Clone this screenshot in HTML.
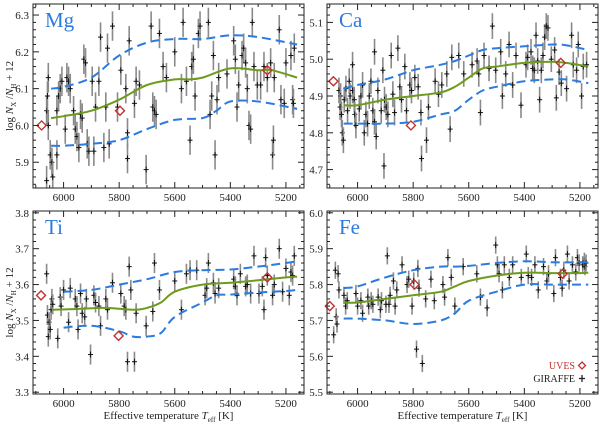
<!DOCTYPE html>
<html><head><meta charset="utf-8">
<style>
html,body{margin:0;padding:0;background:#fff;}
svg{display:block;font-family:"Liberation Serif",serif;}
</style></head>
<body>
<svg id="fig" width="600" height="423" viewBox="0 0 600 423" xmlns="http://www.w3.org/2000/svg"></svg>
<script>
// ---------- DATA ----------
const xTicks = [6000, 5800, 5600, 5400, 5200];
const xDomain = [6110, 5135];

const mgYTicks = [5.9, 6.0, 6.1, 6.2, 6.3];
const mgT = [6061,6055,6058,6055,6048,6042,6039,6061,6024,6018,6012,6006,6024,5994,5988,5982,5976,5964,5958,5952,5945,5939,5933,5927,5921,5915,5909,5897,5891,5885,5873,5867,5855,5848,5842,5836,5824,5806,5794,5776,5770,5764,5770,5745,5739,5727,5703,5685,5679,5673,5667,5655,5642,5630,5600,5576,5570,5558,5545,5539,5533,5527,5515,5509,5479,5473,5467,5461,5455,5448,5442,5412,5388,5382,5376,5370,5358,5352,5345,5339,5333,5327,5321,5315,5303,5291,5279,5267,5255,5248,5245,5242,5224,5218,5206,5200,5182,5176,5170,5173];
const mgV = [6.04,6.13,6.08,6.00,5.92,5.90,5.86,5.85,6.04,6.08,6.10,6.12,5.92,5.99,6.13,6.12,6.10,6.04,5.99,5.97,5.94,6.03,6.02,6.18,6.17,5.95,5.93,6.12,5.93,6.05,6.12,6.24,5.94,6.05,6.21,5.95,6.27,6.05,6.15,6.10,5.98,6.23,5.91,6.06,6.12,6.11,5.88,6.27,6.05,6.04,6.03,6.25,6.16,6.13,6.20,6.10,6.28,6.12,5.96,6.16,6.18,6.08,6.25,6.27,6.28,6.03,6.08,6.19,5.92,6.07,6.13,6.14,6.23,6.18,6.05,6.11,6.19,6.21,6.17,6.10,6.00,5.99,6.28,6.16,6.11,6.11,6.16,6.13,6.17,5.92,5.96,6.13,6.26,6.07,6.06,6.17,6.19,6.07,6.21,6.06];
const mgUvesT = [6079, 5797, 5267];
const mgUvesV = [6.00, 6.04, 6.15];
const mgFitT = [6045,6000,5900,5800,5700,5600,5550,5500,5400,5300,5250,5160];
const mgFit = [6.02,6.025,6.04,6.07,6.11,6.125,6.125,6.13,6.155,6.15,6.15,6.13];
const mgUpT = [6045,6000,5900,5800,5700,5600,5500,5400,5300,5160];
const mgUp = [6.10,6.105,6.13,6.19,6.225,6.235,6.235,6.245,6.24,6.22];
const mgLoT = [6045,6000,5900,5800,5700,5600,5500,5450,5400,5300,5160];
const mgLo = [5.945,5.945,5.95,5.96,5.99,6.015,6.02,6.04,6.065,6.065,6.045];

const caYTicks = [4.7, 4.8, 4.9, 5.0, 5.1];
const caT = [6067,6061,6063,6058,6055,6051,6048,6042,6036,6030,6027,6018,6012,6010,6018,6006,5994,5988,5982,5976,5970,5964,5958,5952,5945,5939,5939,5933,5927,5915,5909,5903,5897,5891,5905,5879,5873,5867,5855,5848,5842,5830,5824,5812,5806,5794,5782,5772,5770,5752,5745,5721,5709,5697,5679,5667,5661,5636,5618,5588,5570,5564,5558,5545,5527,5515,5503,5485,5479,5467,5455,5442,5430,5412,5394,5388,5376,5370,5364,5358,5352,5345,5339,5333,5327,5321,5315,5303,5291,5285,5275,5267,5248,5230,5224,5212,5206,5194,5188,5176];
const caV = [4.915,4.90,4.87,4.85,4.80,4.78,4.89,4.92,4.86,4.94,4.90,4.915,4.89,4.85,4.985,4.82,4.865,4.90,4.93,4.80,4.85,4.825,4.90,4.94,4.86,5.02,4.83,4.79,4.915,4.86,4.97,4.89,4.87,4.85,4.71,5.01,4.905,4.855,5.03,4.925,4.89,4.98,4.86,4.93,4.915,4.95,4.925,4.855,4.73,4.78,4.87,4.94,4.905,4.93,4.96,4.81,5.005,5.01,4.96,4.985,4.995,4.96,4.855,5.01,4.975,5.09,4.97,5.02,4.90,4.96,5.04,4.93,5.01,4.875,4.985,5.005,5.02,4.975,4.97,5.065,4.995,4.89,4.97,5.01,5.06,5.09,5.085,5.0,5.025,4.895,4.965,4.935,4.92,5.065,4.985,4.97,5.04,4.90,4.98,4.985];
const caUvesT = [6087, 5808, 5269];
const caUvesV = [4.94, 4.82, 4.99];
const caFitT = [6050,6000,5900,5800,5700,5650,5600,5550,5500,5400,5300,5250,5170];
const caFit = [4.875,4.875,4.89,4.90,4.91,4.925,4.95,4.975,4.98,4.99,4.993,4.99,4.98];
const caUp = [4.92,4.93,4.945,4.97,4.985,4.995,5.01,5.025,5.03,5.035,5.04,5.038,5.025];
const caLo = [4.825,4.825,4.825,4.83,4.85,4.86,4.89,4.915,4.925,4.94,4.945,4.945,4.935];

const tiYTicks = [3.3, 3.4, 3.5, 3.6, 3.7, 3.8];
const tiT = [6061,6058,6055,6052,6048,6045,6042,6039,6021,6012,6009,6000,5982,5976,5958,5952,5948,5939,5933,5924,5918,5903,5891,5885,5873,5867,5848,5842,5824,5794,5782,5776,5770,5764,5758,5745,5739,5703,5679,5673,5655,5600,5576,5558,5545,5521,5491,5485,5479,5461,5455,5442,5388,5382,5376,5364,5345,5339,5327,5315,5297,5285,5279,5273,5267,5248,5242,5224,5212,5200,5188,5182,5176,5170];
const tiV = [3.63,3.515,3.455,3.495,3.475,3.53,3.56,3.545,3.45,3.565,3.54,3.585,3.495,3.59,3.56,3.54,3.475,3.575,3.52,3.51,3.56,3.405,3.57,3.55,3.54,3.485,3.56,3.53,3.605,3.575,3.54,3.53,3.385,3.65,3.585,3.385,3.52,3.485,3.525,3.66,3.585,3.61,3.53,3.63,3.64,3.64,3.57,3.59,3.66,3.605,3.575,3.59,3.615,3.595,3.57,3.63,3.595,3.60,3.575,3.68,3.575,3.595,3.53,3.675,3.625,3.57,3.60,3.70,3.58,3.645,3.57,3.635,3.625,3.68];
const tiUvesT = [6081, 5802, 5267];
const tiUvesV = [3.57, 3.457, 3.62];
const tiFitT = [6040,5950,5850,5750,5700,5650,5600,5500,5400,5300,5200,5160];
const tiFit = [3.53,3.532,3.535,3.53,3.535,3.55,3.58,3.60,3.605,3.612,3.62,3.622];
const tiUpT = [6000,5900,5800,5700,5600,5500,5400,5300,5200,5160];
const tiUp = [3.58,3.585,3.60,3.615,3.635,3.64,3.642,3.65,3.66,3.665];
const tiLoT = [6000,5900,5800,5750,5700,5650,5600,5500,5450,5400,5300,5200,5160];
const tiLo = [3.48,3.485,3.47,3.455,3.455,3.465,3.51,3.55,3.57,3.572,3.578,3.582,3.585];

const feYTicks = [5.5, 5.6, 5.7, 5.8, 5.9, 6.0];
const feT = [6086,6080,6077,6074,6070,6067,6049,6043,6037,6006,6000,5988,5982,5963,5960,5951,5945,5926,5918,5914,5898,5893,5887,5883,5871,5865,5859,5840,5822,5816,5804,5798,5788,5783,5779,5767,5755,5736,5724,5693,5687,5675,5663,5650,5620,5571,5558,5534,5503,5497,5491,5479,5472,5454,5442,5411,5393,5386,5374,5362,5350,5331,5319,5313,5294,5288,5270,5264,5258,5245,5239,5227,5215,5209,5203,5190,5184,5182,5178];
const feV = [5.66,5.84,5.71,5.69,5.83,5.785,5.77,5.74,5.755,5.775,5.74,5.755,5.72,5.765,5.74,5.755,5.745,5.765,5.73,5.755,5.745,5.88,5.745,5.77,5.81,5.74,5.785,5.855,5.80,5.815,5.74,5.81,5.62,5.845,5.79,5.58,5.76,5.815,5.755,5.80,5.765,5.875,5.82,5.74,5.85,5.83,5.765,5.735,5.91,5.855,5.83,5.785,5.855,5.82,5.855,5.82,5.885,5.825,5.82,5.855,5.785,5.85,5.81,5.83,5.775,5.875,5.82,5.79,5.84,5.885,5.81,5.855,5.835,5.875,5.86,5.855,5.865,5.85,5.86];
const feUvesT = [6100, 5795, 5262];
const feUvesV = [5.74, 5.80, 5.83];
const feFitT = [6050,6000,5900,5800,5700,5650,5600,5500,5400,5300,5200,5170];
const feFit = [5.75,5.75,5.76,5.77,5.78,5.795,5.81,5.825,5.833,5.832,5.832,5.833];
const feUp = [5.79,5.795,5.82,5.84,5.85,5.85,5.852,5.86,5.865,5.862,5.862,5.862];
const feLo = [5.705,5.705,5.70,5.69,5.70,5.72,5.755,5.78,5.80,5.80,5.80,5.80];

// ---------- RENDER ----------
const NS = "http://www.w3.org/2000/svg";
const svg = document.getElementById("fig");
function mk(tag, attrs, parent){
  const e = document.createElementNS(NS, tag);
  for (const k in attrs) e.setAttribute(k, attrs[k]);
  (parent||svg).appendChild(e);
  return e;
}
function smoothPath(pts){
  let d = "M" + pts[0][0].toFixed(1) + "," + pts[0][1].toFixed(1);
  for (let i=0;i<pts.length-1;i++){
    const p0=pts[Math.max(0,i-1)], p1=pts[i], p2=pts[i+1], p3=pts[Math.min(pts.length-1,i+2)];
    const c1x=p1[0]+(p2[0]-p0[0])/6, c1y=p1[1]+(p2[1]-p0[1])/6;
    const c2x=p2[0]-(p3[0]-p1[0])/6, c2y=p2[1]-(p3[1]-p1[1])/6;
    d += " C"+c1x.toFixed(1)+","+c1y.toFixed(1)+" "+c2x.toFixed(1)+","+c2y.toFixed(1)+" "+p2[0].toFixed(1)+","+p2[1].toFixed(1);
  }
  return d;
}

const panels = [
  {name:"mg", label:"Mg", x0:33, y0:4, w:271, h:184, yd:[5.83,6.33], yt:mgYTicks, T:mgT, V:mgV, uT:mgUvesT, uV:mgUvesV, fT:mgFitT, f:mgFit, upT:mgUpT, up:mgUp, loT:mgLoT, lo:mgLo, err:0.04, ylab:true, xlab:false},
  {name:"ca", label:"Ca", x0:327, y0:4, w:271, h:184, yd:[4.65,5.15], yt:caYTicks, T:caT, V:caV, uT:caUvesT, uV:caUvesV, fT:caFitT, f:caFit, upT:caFitT, up:caUp, loT:caFitT, lo:caLo, err:0.035, ylab:false, xlab:false},
  {name:"ti", label:"Ti", x0:33, y0:211, w:271, h:183, yd:[3.295,3.805], yt:tiYTicks, T:tiT, V:tiV, uT:tiUvesT, uV:tiUvesV, fT:tiFitT, f:tiFit, upT:tiUpT, up:tiUp, loT:tiLoT, lo:tiLo, err:0.028, ylab:true, xlab:true},
  {name:"fe", label:"Fe", x0:327, y0:211, w:271, h:183, yd:[5.495,6.005], yt:feYTicks, T:feT, V:feV, uT:feUvesT, uV:feUvesV, fT:feFitT, f:feFit, upT:feFitT, up:feUp, loT:feFitT, lo:feLo, err:0.024, ylab:false, xlab:true, legend:true}
];

panels.forEach(p=>{
  const g = mk("g",{});
  
  
  const xs = t => p.x0 + (xDomain[0]-t)/(xDomain[0]-xDomain[1])*p.w;
  const ys = v => p.y0 + p.h - (v-p.yd[0])/(p.yd[1]-p.yd[0])*p.h;
  const clip = "clip-"+p.name;
  const cp = mk("clipPath",{id:clip},g);
  mk("rect",{x:p.x0,y:p.y0,width:p.w,height:p.h},cp);
  const plot = mk("g",{"clip-path":"url(#"+clip+")"},g);

  for (let i=0;i<p.T.length;i++){
    const cx=xs(p.T[i]), cy=ys(p.V[i]);
    const pt = mk("g",{},plot);
    
    
    mk("line",{x1:cx,x2:cx,y1:ys(p.V[i]+p.err),y2:ys(p.V[i]-p.err),stroke:"#8a8a8a","stroke-width":1.6},pt);
    mk("line",{x1:cx,x2:cx,y1:cy-3,y2:cy+3,stroke:"#111","stroke-width":1},pt);
    mk("line",{x1:cx-2.5,x2:cx+2.5,y1:cy,y2:cy,stroke:"#111","stroke-width":1},pt);
  }
  const up = mk("path",{d:smoothPath(p.upT.map((t,i)=>[xs(t),ys(p.up[i])])),fill:"none",stroke:"#2b7be0","stroke-width":2,"stroke-dasharray":"9,5"},plot);
  
  
  const lo = mk("path",{d:smoothPath(p.loT.map((t,i)=>[xs(t),ys(p.lo[i])])),fill:"none",stroke:"#2b7be0","stroke-width":2,"stroke-dasharray":"9,5"},plot);
  
  
  const fit = mk("path",{d:smoothPath(p.fT.map((t,i)=>[xs(t),ys(p.f[i])])),fill:"none",stroke:"#6e9b1c","stroke-width":2},plot);
  
  
  for (let i=0;i<p.uT.length;i++){
    const cx=xs(p.uT[i]), cy=ys(p.uV[i]);
    const d = mk("polygon",{points:`${cx},${cy-4.5} ${cx+4.5},${cy} ${cx},${cy+4.5} ${cx-4.5},${cy}`,fill:"none",stroke:"#c0322f","stroke-width":1.4},g);
    
    
  }
  const fr = mk("rect",{x:p.x0,y:p.y0,width:p.w,height:p.h,fill:"none",stroke:"#222","stroke-width":1},g);
  
  
  for (let t=6100;t>=5150;t-=50){
    const x=xs(t); const major = (t%200===0);
    const L = major?6:3;
    mk("line",{x1:x,x2:x,y1:p.y0+p.h,y2:p.y0+p.h-L,stroke:"#222","stroke-width":1},g);
    mk("line",{x1:x,x2:x,y1:p.y0,y2:p.y0+L,stroke:"#222","stroke-width":1},g);
  }
  xTicks.forEach(t=>{
    const tx = mk("text",{x:xs(t),y:p.y0+p.h+13,"text-anchor":"middle","font-size":11,fill:"#222"},g);
    tx.textContent = t;
    
    
  });
  const step=0.02;
  for (let v=Math.ceil(p.yd[0]/step)*step; v<=p.yd[1]+1e-9; v+=step){
    const y=ys(v); const major = Math.abs(Math.round(v*10)-v*10)<1e-6;
    const L = major?6:3;
    mk("line",{x1:p.x0,x2:p.x0+L,y1:y,y2:y,stroke:"#222","stroke-width":1},g);
    mk("line",{x1:p.x0+p.w,x2:p.x0+p.w-L,y1:y,y2:y,stroke:"#222","stroke-width":1},g);
  }
  p.yt.forEach(v=>{
    const ty = mk("text",{x:p.x0-4,y:ys(v)+4,"text-anchor":"end","font-size":11,fill:"#222"},g);
    ty.textContent = v.toFixed(1);
    
    
  });
  const el = mk("text",{x:p.x0+12,y:p.y0+23,"font-size":21,fill:"#2b7be0"},g);
  el.textContent = p.label;
  
  
  if (p.ylab){
    const cy = p.y0+p.h/2;
    const yt = mk("text",{x:0,y:0,transform:`translate(13,${cy}) rotate(-90)`,"text-anchor":"middle","font-size":11,fill:"#222"},g);
    yt.innerHTML = 'log <tspan font-style="italic">N</tspan><tspan font-size="7" dy="3">X</tspan><tspan dy="-3"> /</tspan><tspan font-style="italic">N</tspan><tspan font-size="7" dy="3">H</tspan><tspan dy="-3"> + 12</tspan>';
    
    
  }
  if (p.xlab){
    const xt = mk("text",{x:p.x0+p.w/2,y:419,"text-anchor":"middle","font-size":11,fill:"#222"},g);
    xt.innerHTML = 'Effective temperature <tspan font-style="italic">T</tspan><tspan font-size="7" dy="3">eff</tspan><tspan dy="-3"> [K]</tspan>';
    
    
  }
  if (p.legend){
    const lg = mk("g",{},g);
    
    
    const l1 = mk("text",{x:575,y:369,"text-anchor":"end","font-size":10,fill:"#c0322f","font-family":"Liberation Serif, serif"},lg);
    l1.textContent = "UVES";
    
    
    mk("polygon",{points:"582,362 585.5,365.5 582,369 578.5,365.5",fill:"none",stroke:"#c0322f","stroke-width":1.3},lg);
    const l2 = mk("text",{x:575,y:382,"text-anchor":"end","font-size":10,fill:"#222","font-family":"Liberation Serif, serif"},lg);
    l2.textContent = "GIRAFFE";
    
    
    mk("line",{x1:582,x2:582,y1:375,y2:382,stroke:"#222","stroke-width":1.3},lg);
    mk("line",{x1:579,x2:585,y1:378.5,y2:378.5,stroke:"#222","stroke-width":1.3},lg);
  }
});
</script>
</body></html>
